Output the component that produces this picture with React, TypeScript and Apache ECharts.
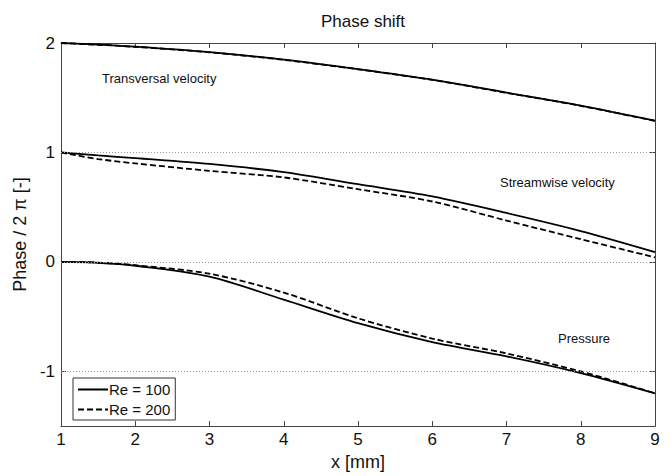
import React, { useEffect, useRef } from "react";
import * as echarts from "echarts";

// Streamwise position x [mm]
const xPositions = [1, 1.5, 2, 3, 4, 5, 6, 7, 8, 9];

// Phase / 2π for each quantity, Re = 100 (solid) and Re = 200 (dashed)
const transversalRe100 = [2.0, 1.985, 1.966, 1.916, 1.848, 1.762, 1.665, 1.547, 1.428, 1.29];
const transversalRe200 = [2.0, 1.984, 1.965, 1.915, 1.846, 1.76, 1.663, 1.545, 1.426, 1.288];
const streamwiseRe100 = [1.0, 0.973, 0.948, 0.895, 0.82, 0.71, 0.598, 0.447, 0.282, 0.09];
const streamwiseRe200 = [1.0, 0.94, 0.9, 0.832, 0.772, 0.664, 0.552, 0.378, 0.208, 0.042];
const pressureRe100 = [0, -0.008, -0.035, -0.135, -0.345, -0.56, -0.733, -0.862, -1.015, -1.2];
const pressureRe200 = [0, -0.006, -0.03, -0.108, -0.28, -0.515, -0.7, -0.836, -1.0, -1.2];

const yTicks = [-1, 0, 1, 2];
const referenceLevels = [-1, 0, 1];

const curveLabels = [
  { text: "Transversal velocity", left: 102, top: 72 },
  { text: "Streamwise velocity", left: 500, top: 176 },
  { text: "Pressure", left: 558, top: 332 },
];

const FONT = "'Liberation Sans', Arial, Helvetica, sans-serif";

function pairs(ys: number[]) {
  return xPositions.map((x, i) => [x, ys[i]]);
}

export default function App() {
  const ref = useRef<HTMLDivElement>(null);

  useEffect(() => {
    if (!ref.current) return;
    const chart = echarts.init(ref.current, undefined, { renderer: "svg" });

    const solid = (data: number[], extra: any = {}) => ({
      type: "line",
      name: "Re = 100",
      data: pairs(data),
      smooth: 0.3,
      symbol: "none",
      lineStyle: { color: "#000", width: 1.8, type: "solid" },
      itemStyle: { color: "#000" },
      z: 3,
      ...extra,
    });
    const dashed = (data: number[]) => ({
      type: "line",
      name: "Re = 200",
      data: pairs(data),
      smooth: 0.3,
      symbol: "none",
      lineStyle: { color: "#000", width: 1.8, type: [6, 3] },
      itemStyle: { color: "#000" },
      z: 3,
    });

    const axisLine = { show: true, onZero: false, lineStyle: { color: "#444", width: 1 } };
    const tick = { show: true, inside: true, length: 5, lineStyle: { color: "#444" } };

    chart.setOption({
      animation: false,
      backgroundColor: "#fff",
      textStyle: { fontFamily: FONT },
      title: {
        text: "Phase shift",
        left: 358,
        textAlign: "center",
        top: 8,
        textStyle: { fontFamily: FONT, fontSize: 17, fontWeight: "normal", color: "#111" },
      },
      grid: { left: 61, right: 17, top: 43, bottom: 46 },
      legend: {
        orient: "vertical",
        left: 73,
        top: 378,
        data: ["Re = 100", "Re = 200"],
        itemWidth: 30,
        itemHeight: 10,
        itemGap: 5,
        padding: [4, 5, 3, 4],
        borderColor: "#333",
        borderWidth: 1,
        backgroundColor: "#fff",
        itemStyle: { opacity: 0 },
        textStyle: { fontFamily: FONT, fontSize: 15, color: "#111", padding: [0, 0, 0, -4] },
      },
      xAxis: [
        {
          type: "value",
          min: 1,
          max: 9,
          interval: 1,
          position: "bottom",
          name: "x [mm]",
          nameLocation: "middle",
          nameGap: 25,
          nameTextStyle: { fontFamily: FONT, fontSize: 18, color: "#111" },
          axisLine,
          axisTick: tick,
          axisLabel: { fontFamily: FONT, fontSize: 17, color: "#111", margin: 5 },
          splitLine: { show: false },
        },
        {
          type: "value",
          min: 1,
          max: 9,
          interval: 1,
          position: "top",
          axisLine,
          axisTick: tick,
          axisLabel: { show: false },
          splitLine: { show: false },
        },
      ],
      yAxis: [
        {
          type: "value",
          min: -1.5,
          max: 2,
          position: "left",
          name: "Phase / 2 π [-]",
          nameLocation: "middle",
          nameGap: 30,
          nameTextStyle: { fontFamily: FONT, fontSize: 18, color: "#111" },
          axisLine,
          axisTick: { ...tick, customValues: yTicks },
          axisLabel: { fontFamily: FONT, fontSize: 17, color: "#111", margin: 6, customValues: yTicks },
          splitLine: { show: false },
        },
        {
          type: "value",
          min: -1.5,
          max: 2,
          position: "right",
          axisLine,
          axisTick: { ...tick, customValues: yTicks },
          axisLabel: { show: false },
          splitLine: { show: false },
        },
      ],
      graphic: curveLabels.map((l) => ({
        type: "text",
        left: l.left,
        top: l.top,
        z: 10,
        style: { text: l.text, fontFamily: FONT, fontSize: 13, fill: "#111" },
      })),
      series: [
        solid(transversalRe100, {
          markLine: {
            silent: true,
            symbol: "none",
            label: { show: false },
            lineStyle: { color: "#999", type: [1, 2], width: 1 },
            data: referenceLevels.map((v) => ({ yAxis: v })),
          },
        }),
        dashed(transversalRe200),
        solid(streamwiseRe100),
        dashed(streamwiseRe200),
        solid(pressureRe100),
        dashed(pressureRe200),
      ],
    });

    return () => chart.dispose();
  }, []);

  return (
    <div
      ref={ref}
      style={{ position: "fixed", left: 0, top: 0, width: 672, height: 476, background: "#fff" }}
    />
  );
}
